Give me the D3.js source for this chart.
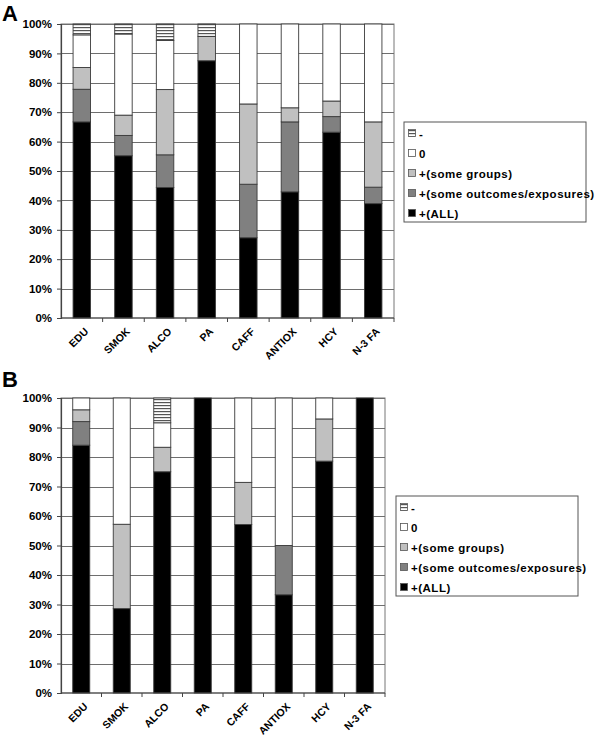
<!DOCTYPE html>
<html>
<head>
<meta charset="utf-8">
<script src="https://cdn.jsdelivr.net/npm/d3@7"></script>
<style>
  body { margin: 0; background: #fff; }
  text { font-family: "Liberation Sans", Arial, sans-serif; font-weight: bold; fill: #000; }
</style>
</head>
<body>
<svg id="chart" width="600" height="738"></svg>
<script>
// categories and series (percent of studies)
var categories = ["EDU", "SMOK", "ALCO", "PA", "CAFF", "ANTIOX", "HCY", "N-3 FA"];
var seriesKeys = ["all", "outcomes", "groups", "zero", "neg"];
var seriesNames = ["+(ALL)", "+(some outcomes/exposures)", "+(some groups)", "0", "-"];
var yTicks = [0, 10, 20, 30, 40, 50, 60, 70, 80, 90, 100];

// panel A
var aAll      = [66.7, 55.2, 44.4, 87.5, 27.3, 42.9, 63.2, 38.9];
var aOutcomes = [11.1,  6.9, 11.1,  0.0, 18.2, 23.8,  5.3,  5.6];
var aGroups   = [ 7.4,  6.9, 22.2,  8.3, 27.3,  4.8,  5.3, 22.2];
var aZero     = [11.1, 27.6, 16.7,  0.0, 27.2, 28.5, 26.2, 33.3];
var aNeg      = [ 3.7,  3.4,  5.6,  4.2,  0.0,  0.0,  0.0,  0.0];

// panel B
var bAll      = [84.0, 28.6, 75.0, 100, 57.1, 33.3, 78.6, 100];
var bOutcomes = [ 8.0,  0.0,  0.0,   0,  0.0, 16.7,  0.0,   0];
var bGroups   = [ 4.0, 28.6,  8.3,   0, 14.3,  0.0, 14.3,   0];
var bZero     = [ 4.0, 42.8,  8.3,   0, 28.6, 50.0,  7.1,   0];
var bNeg      = [ 0.0,  0.0,  8.4,   0,  0.0,  0.0,  0.0,   0];

var svg = d3.select("#chart");

// horizontal stripe pattern for the "-" series
var defs = svg.append("defs");
var pat = defs.append("pattern")
    .attr("id", "stripes")
    .attr("patternUnits", "userSpaceOnUse")
    .attr("width", 6)
    .attr("height", 3);
pat.append("rect").attr("width", 6).attr("height", 3).attr("fill", "#fff");
pat.append("rect").attr("y", 0).attr("width", 6).attr("height", 1.2).attr("fill", "#555");

var fills = {
    all: "#000000",
    outcomes: "#808080",
    groups: "#c0c0c0",
    zero: "#ffffff",
    neg: "url(#stripes)"
};

function makeRows(all, outcomes, groups, zero, neg) {
    return categories.map(function(c, i) {
        return {cat: c, all: all[i], outcomes: outcomes[i], groups: groups[i], zero: zero[i], neg: neg[i]};
    });
}

function drawPanel(cfg) {
    var g = svg.append("g");

    g.append("text")
        .attr("x", 2)
        .attr("y", cfg.labelY)
        .attr("font-size", "22px")
        .text(cfg.label);

    var x = d3.scaleBand()
        .domain(categories)
        .range([cfg.left, cfg.right])
        .paddingInner(0.58)
        .paddingOuter(0.29);
    var xSlot = d3.scaleBand()
        .domain(categories)
        .range([cfg.left, cfg.right])
        .padding(0);
    var y = d3.scaleLinear()
        .domain([0, 100])
        .range([cfg.bottom, cfg.top]);

    // plot frame + gridlines
    g.append("rect")
        .attr("x", cfg.left)
        .attr("y", cfg.top)
        .attr("width", cfg.right - cfg.left)
        .attr("height", cfg.bottom - cfg.top)
        .attr("fill", "#fff")
        .attr("stroke", "#777")
        .attr("stroke-width", 1);

    g.selectAll(".grid")
        .data(yTicks.slice(1))
        .enter().append("line")
        .attr("x1", cfg.left)
        .attr("x2", cfg.right)
        .attr("y1", function(d) { return Math.round(y(d)) + 0.5; })
        .attr("y2", function(d) { return Math.round(y(d)) + 0.5; })
        .attr("stroke", "#6e6e6e")
        .attr("stroke-width", 1);

    // stacked bars
    var stacked = d3.stack().keys(seriesKeys)(cfg.rows);
    g.selectAll(".series")
        .data(stacked)
        .enter().append("g")
        .attr("fill", function(d) { return fills[d.key]; })
        .selectAll("rect")
        .data(function(d) { return d.filter(function(p) { return p[1] - p[0] > 0; }); })
        .enter().append("rect")
        .attr("x", function(d) { return x(d.data.cat); })
        .attr("width", x.bandwidth())
        .attr("y", function(d) { return y(d[1]); })
        .attr("height", function(d) { return y(d[0]) - y(d[1]); })
        .attr("stroke", "#3a3a3a")
        .attr("stroke-width", 0.9);

    // y axis
    var yAxis = d3.axisLeft(y)
        .tickValues(yTicks)
        .tickSize(4)
        .tickPadding(5)
        .tickFormat(function(d) { return d + "%"; });
    var ya = g.append("g")
        .attr("transform", "translate(" + cfg.left + ",0)")
        .call(yAxis);
    ya.selectAll("text").attr("font-size", "11.5px");
    ya.selectAll("line").attr("stroke", "#444");
    ya.select(".domain").attr("stroke", "#444").attr("stroke-width", 1.2);

    // x axis: ticks at category boundaries, labels at centres
    var xa = g.append("g");
    xa.append("line")
        .attr("x1", cfg.left).attr("x2", cfg.right)
        .attr("y1", cfg.bottom).attr("y2", cfg.bottom)
        .attr("stroke", "#444").attr("stroke-width", 1.2);
    var bounds = categories.slice(1).map(function(c) { return xSlot(c); }).concat([cfg.right]);
    xa.selectAll(".xtick")
        .data(bounds)
        .enter().append("line")
        .attr("x1", function(d) { return d; })
        .attr("x2", function(d) { return d; })
        .attr("y1", cfg.bottom)
        .attr("y2", cfg.bottom + 4)
        .attr("stroke", "#444");
    xa.selectAll(".xlab")
        .data(categories)
        .enter().append("g")
        .attr("transform", function(d) {
            var cx = x(d) + x.bandwidth() / 2;
            return "translate(" + (cx + 2) + "," + (cfg.bottom + 9) + ")";
        })
        .append("g")
        .attr("transform", "rotate(-45)")
        .append("text")
        .attr("font-size", "10.5px")
        .attr("text-anchor", "end")
        .attr("dy", "0.7em")
        .text(function(d) { return d; });

    // legend
    var lg = g.append("g").attr("transform", "translate(" + cfg.legend.x + "," + cfg.legend.y + ")");
    lg.append("rect")
        .attr("width", cfg.legend.w)
        .attr("height", cfg.legend.h)
        .attr("fill", "#fff")
        .attr("stroke", "#555")
        .attr("stroke-width", 1);
    var order = seriesKeys.slice().reverse();
    var item = lg.selectAll(".item")
        .data(order)
        .enter().append("g")
        .attr("transform", function(d, i) { return "translate(0," + (11 + i * 20) + ")"; });
    item.append("rect")
        .attr("x", 4.5)
        .attr("y", -3.5)
        .attr("width", 7)
        .attr("height", 7)
        .attr("fill", function(d) { return fills[d]; })
        .attr("stroke", "#555")
        .attr("stroke-width", 0.8);
    item.append("text")
        .attr("x", 15)
        .attr("y", 4.5)
        .attr("font-size", "11.5px")
        .attr("letter-spacing", "0.5px")
        .text(function(d) { return seriesNames[seriesKeys.indexOf(d)]; });
}

drawPanel({
    label: "A", labelY: 21,
    left: 61, right: 394, top: 24, bottom: 318,
    legend: {x: 404, y: 122, w: 182, h: 100},
    rows: makeRows(aAll, aOutcomes, aGroups, aZero, aNeg)
});

drawPanel({
    label: "B", labelY: 387,
    left: 61, right: 385, top: 398, bottom: 693,
    legend: {x: 396, y: 496, w: 182, h: 100},
    rows: makeRows(bAll, bOutcomes, bGroups, bZero, bNeg)
});
</script>
</body>
</html>
